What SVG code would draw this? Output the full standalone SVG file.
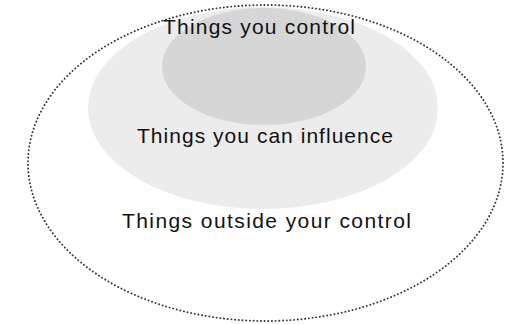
<svg xmlns="http://www.w3.org/2000/svg" width="505" height="324" viewBox="0 0 505 324">
<style>
.lbl{font-family:"Liberation Sans","DejaVu Sans",sans-serif;font-size:21px;fill:#111;text-anchor:start}
</style>
<rect width="505" height="324" fill="#ffffff"/>
<g id="outer">
<ellipse cx="265.5" cy="163" rx="237.5" ry="158" fill="none" stroke="#333" stroke-width="1.9" stroke-dasharray="0.1 3.6" stroke-linecap="round"/>
<text class="lbl" x="122" y="228" textLength="289" lengthAdjust="spacing">Things outside your control</text>
</g>
<g id="influence">
<ellipse cx="263" cy="108" rx="175" ry="101" fill="#ececec"/>
<text class="lbl" x="137" y="143" textLength="256" lengthAdjust="spacing">Things you can influence</text>
</g>
<g id="control">
<ellipse cx="264" cy="66.5" rx="102" ry="58.5" fill="#d6d6d6"/>
<text class="lbl" x="163" y="34" textLength="192" lengthAdjust="spacing">Things you control</text>
</g>
<g id="connectors"/>
</svg>
